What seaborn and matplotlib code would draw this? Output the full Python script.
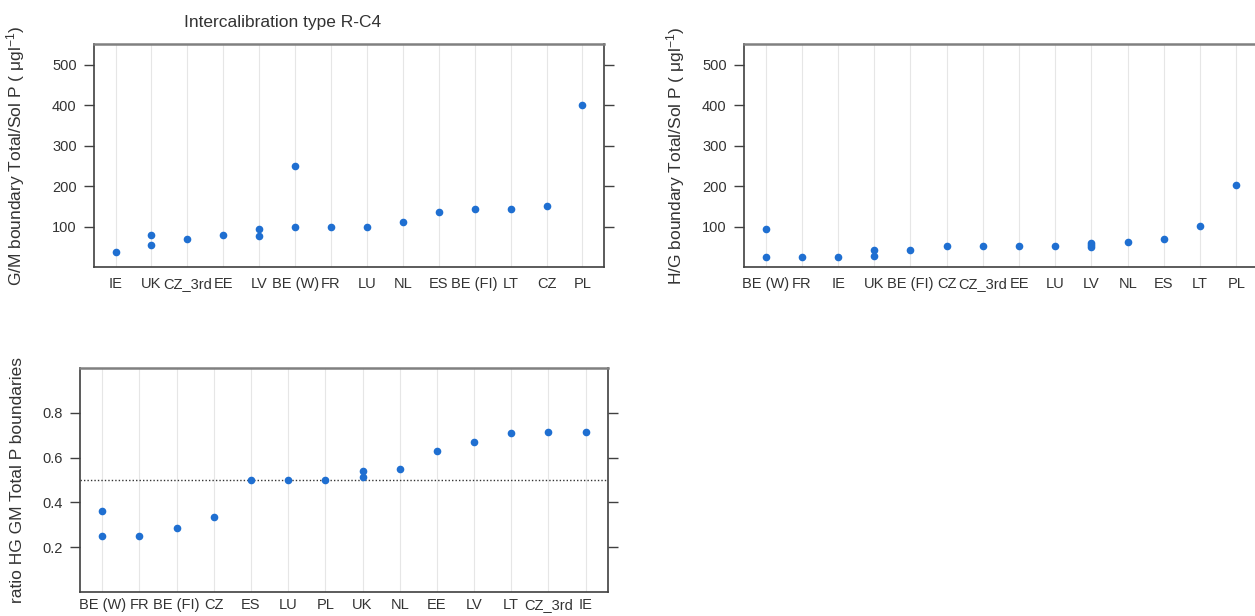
import matplotlib
matplotlib.use("Agg")
import matplotlib.pyplot as plt
import seaborn as sns

# G/M boundary (ug/l), one entry per point
gm_order = ["IE", "UK", "CZ_3rd", "EE", "LV", "BE (W)", "FR", "LU", "NL", "ES",
            "BE (FI)", "LT", "CZ", "PL"]
gm_country = ["IE", "UK", "UK", "CZ_3rd", "EE", "LV", "LV", "BE (W)", "BE (W)", "FR",
              "LU", "NL", "ES", "BE (FI)", "LT", "CZ", "PL"]
gm_value = [37, 54, 79, 70, 80, 76, 93, 100, 250, 100, 100, 112, 135, 143, 143, 150, 400]

# H/G boundary (ug/l)
hg_order = ["BE (W)", "FR", "IE", "UK", "BE (FI)", "CZ", "CZ_3rd", "EE", "LU", "LV",
            "NL", "ES", "LT", "PL"]
hg_country = ["BE (W)", "BE (W)", "FR", "IE", "UK", "UK", "BE (FI)", "CZ", "CZ_3rd", "EE",
              "LU", "LV", "LV", "LV", "NL", "ES", "LT", "PL"]
hg_value = [25, 93, 25, 25, 26, 42, 42, 51, 51, 51, 51, 50, 55, 60, 62, 69, 101, 203]

# ratio HG / GM
ratio_order = ["BE (W)", "FR", "BE (FI)", "CZ", "ES", "LU", "PL", "UK", "NL", "EE", "LV",
               "LT", "CZ_3rd", "IE"]
ratio_country = ["BE (W)", "BE (W)", "FR", "BE (FI)", "CZ", "ES", "LU", "PL", "UK", "UK",
                 "NL", "EE", "LV", "LT", "CZ_3rd", "IE"]
ratio_value = [0.25, 0.36, 0.25, 0.285, 0.335, 0.50, 0.50, 0.50, 0.515, 0.54, 0.55,
               0.63, 0.67, 0.71, 0.715, 0.715]

sns.set_style("ticks")
plt.rcParams["font.family"] = ["Liberation Sans", "DejaVu Sans"]
plt.rcParams["mathtext.default"] = "regular"

dot = "#1f6fd1"
txt = "#333333"

fig = plt.figure(figsize=(12.55, 6.16), dpi=100)
ax1 = fig.add_axes([0.0749, 0.5666, 0.4064, 0.362])
ax2 = fig.add_axes([0.5928, 0.5666, 0.4096, 0.362])
ax3 = fig.add_axes([0.0637, 0.0390, 0.4207, 0.3636])

panels = [
    (ax1, gm_country, gm_value, gm_order, (0, 552), [100, 200, 300, 400, 500],
     "G/M boundary Total/Sol P ( μgl$^{-1}$)", -0.131, 7),
    (ax2, hg_country, hg_value, hg_order, (0, 552), [100, 200, 300, 400, 500],
     "H/G boundary Total/Sol P ( μgl$^{-1}$)", -0.111, 7),
    (ax3, ratio_country, ratio_value, ratio_order, (0, 1.0), [0.2, 0.4, 0.6, 0.8],
     "ratio HG GM Total P boundaries", -0.104, 4.5),
]

for ax, xs, ys, order, ylim, yt, lab, lx, xpad in panels:
    sns.stripplot(x=xs, y=ys, order=order, jitter=False, color=dot, size=5.5,
                  linewidth=0, ax=ax, zorder=3)
    ax.set_xlim(-0.6, len(order) - 0.4)
    ax.set_ylim(*ylim)
    ax.set_yticks(yt)
    ax.grid(axis="x", color="#e6e6e6", lw=0.8)
    ax.grid(axis="y", visible=False)
    ax.set_axisbelow(True)
    ax.tick_params(axis="y", direction="out", length=7, width=1, color="#404040",
                   right=True, labelright=False, labelsize=10.5, labelcolor=txt, pad=5.5)
    ax.tick_params(axis="x", length=0, labelsize=10.5, labelcolor=txt, pad=xpad)
    for s in ["left", "bottom", "right"]:
        ax.spines[s].set_visible(True)
        ax.spines[s].set_color("#404040")
        ax.spines[s].set_linewidth(1.2)
    ax.spines["top"].set_visible(True)
    ax.spines["top"].set_color("#808080")
    ax.spines["top"].set_linewidth(1.8)
    ax.set_ylabel(lab, fontsize=12.5, color=txt)
    ax.yaxis.set_label_coords(lx, 0.5)
    ax.set_xlabel("")

ax3.axhline(0.5, color="#333333", lw=1, ls=(0, (1, 1.5)), zorder=2)

fig.text(0.225, 0.963, "Intercalibration type R-C4", ha="center", va="center",
         fontsize=12.5, color=txt)

fig.savefig("out.png", dpi=100)
